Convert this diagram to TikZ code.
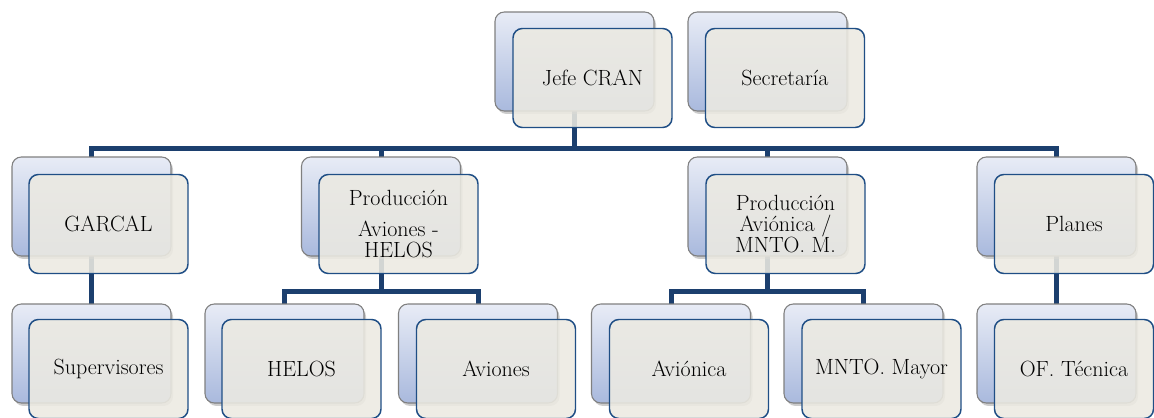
\documentclass[tikz,border=0pt]{standalone}
\usetikzlibrary{shadows}
\definecolor{connc}{HTML}{1C3F6E}
\definecolor{frontedge}{HTML}{1F4E85}
\definecolor{frontfill}{HTML}{ECEAE2}
\definecolor{backtop}{HTML}{E8ECF6}
\definecolor{backbot}{HTML}{A9B9DD}
\definecolor{backedge}{HTML}{808080}
\begin{document}
\begin{tikzpicture}[x=0.75pt,y=-0.75pt,
  backbox/.style={rectangle, rounded corners=7pt, minimum width=119.25pt, minimum height=74.25pt,
    draw=backedge, line width=0.8pt, top color=backtop, bottom color=backbot,
    drop shadow={shadow xshift=1.5pt, shadow yshift=-2.2pt, opacity=0.4}, inner sep=0pt},
  frontbox/.style={rectangle, rounded corners=7pt, minimum width=119.25pt, minimum height=74.25pt,
    draw=frontedge, line width=1.1pt, fill=frontfill, fill opacity=0.88, text opacity=1,
    align=center, inner sep=0pt, font=\fontsize{16.5}{15.7}\selectfont},
  conn/.style={draw=connc, line width=3.75pt, line join=miter}]
\path[fill=white, use as bounding box] (0,0) rectangle (1154,418);

% bus coordinates
\coordinate (busA) at (0,148);
\coordinate (busB) at (0,291);

% box centres
\coordinate (jC) at (574.5,61.5);
\coordinate (sC) at (767.5,61.5);
\coordinate (gC) at (91.5,206.5);
\coordinate (pC) at (381,206.5);
\coordinate (vC) at (767.5,206.5);
\coordinate (lC) at (1056.5,206.5);
\coordinate (suC) at (91.5,353.5);
\coordinate (hC) at (284.5,353.5);
\coordinate (aC) at (478,353.5);
\coordinate (avC) at (671,353.5);
\coordinate (mC) at (863.5,353.5);
\coordinate (oC) at (1056.5,353.5);

% connectors
\draw[conn] (jC) -- (jC |- busA) -| (gC);
\draw[conn] (jC) -- (jC |- busA) -| (pC);
\draw[conn] (jC) -- (jC |- busA) -| (vC);
\draw[conn] (jC) -- (jC |- busA) -| (lC);
\draw[conn] (gC) -- (suC);
\draw[conn] (pC) -- (pC |- busB) -| (hC);
\draw[conn] (pC) -- (pC |- busB) -| (aC);
\draw[conn] (vC) -- (vC |- busB) -| (avC);
\draw[conn] (vC) -- (vC |- busB) -| (mC);
\draw[conn] (lC) -- (oC);

% level 1
\node[backbox] (jB) at (jC) {};
\node[frontbox] (j) at (592.5,78) {Jefe CRAN};
\node[backbox] (sB) at (sC) {};
\node[frontbox] (s) at (785,78) {Secretaría};

% level 2
\node[backbox] (gB) at (gC) {};
\node[frontbox] (g) at (108.5,224) {GARCAL};
\node[backbox] (pB) at (pC) {};
\node[frontbox] (p) at (398.5,224) {Producción\\[8pt]Aviones -\\HELOS};
\node[backbox] (vB) at (vC) {};
\node[frontbox] (v) at (785.5,224) {Producción\\Aviónica /\\MNTO. M.};
\node[backbox] (lB) at (lC) {};
\node[frontbox] (l) at (1074,224) {Planes};

% level 3
\node[backbox] (suB) at (suC) {};
\node[frontbox] (su) at (108.5,369) {Supervisores};
\node[backbox] (hB) at (hC) {};
\node[frontbox] (h) at (301.5,369) {HELOS};
\node[backbox] (aB) at (aC) {};
\node[frontbox] (a) at (496,369) {Aviones};
\node[backbox] (avB) at (avC) {};
\node[frontbox] (av) at (689,369) {Aviónica};
\node[backbox] (mB) at (mC) {};
\node[frontbox] (m) at (881.5,369) {MNTO. Mayor};
\node[backbox] (oB) at (oC) {};
\node[frontbox] (o) at (1074,369) {OF. Técnica};
\end{tikzpicture}
\end{document}
